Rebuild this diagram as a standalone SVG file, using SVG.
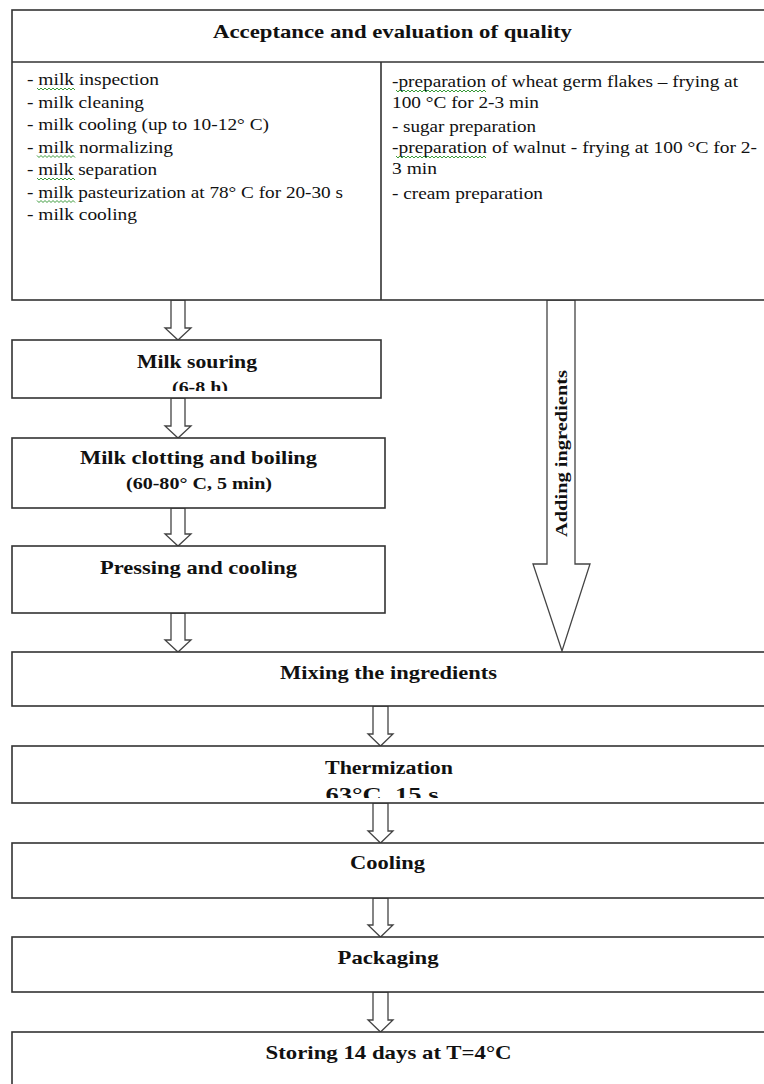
<svg xmlns="http://www.w3.org/2000/svg" width="764" height="1084" viewBox="0 0 764 1084">
<style>
.box{fill:#fff;stroke:#333;stroke-width:1.6}
.line{stroke:#333;stroke-width:1.6;fill:none}
.arr{fill:#fff;stroke:#444;stroke-width:1.3;stroke-linejoin:miter}
.t{font-family:"Liberation Serif","Times New Roman",serif;fill:#111}
.b{font-weight:bold;font-size:19px;text-anchor:middle}
.s{font-size:17px}
.r{font-size:17px}
.sq{stroke:#3a9a3a;stroke-width:1;fill:none}
</style>
<defs>
<clipPath id="c1"><rect x="12" y="340" width="369" height="51"/></clipPath>
<clipPath id="c2"><rect x="12" y="746" width="754" height="52"/></clipPath>
</defs>
<rect width="764" height="1084" fill="#fff"/>

<g id="connectors">
<polygon class="arr" points="171,300 185,300 185,328 191,328 178,340 165,328 171,328"/>
<polygon class="arr" points="171,398 185,398 185,426 191,426 178,438 165,426 171,426"/>
<polygon class="arr" points="171,508 185,508 185,534 191,534 178,546 165,534 171,534"/>
<polygon class="arr" points="171,613 185,613 185,640 191,640 178,652 165,640 171,640"/>
<polygon class="arr" points="547,300 575,300 575,564 590,564 562,651 533,564 547,564"/>
<text class="t" style="font-weight:bold;font-size:17px;text-anchor:middle" transform="translate(567,453.5) rotate(-90)" textLength="167" lengthAdjust="spacingAndGlyphs">Adding ingredients</text>
<polygon class="arr" points="373,706 388,706 388,734 393,734 380.5,746 368,734 373,734"/>
<polygon class="arr" points="373,803 388,803 388,831 393,831 380.5,843 368,831 373,831"/>
<polygon class="arr" points="373,898 388,898 388,925 393,925 380.5,937 368,925 373,925"/>
<polygon class="arr" points="373,992 388,992 388,1020 393,1020 380.5,1032 368,1020 373,1020"/>
</g>

<g id="acceptance">
<rect class="box" x="12" y="10" width="760" height="290"/>
<line class="line" x1="12" y1="62" x2="772" y2="62"/>
<line class="line" x1="381" y1="62" x2="381" y2="300"/>
<text class="t b" x="392.5" y="38" textLength="359" lengthAdjust="spacingAndGlyphs">Acceptance and evaluation of quality</text>
<g class="t r">
<text x="27" y="85" textLength="132" lengthAdjust="spacingAndGlyphs">- milk inspection</text>
<text x="27" y="107.5" textLength="117" lengthAdjust="spacingAndGlyphs">- milk cleaning</text>
<text x="27" y="130" textLength="242" lengthAdjust="spacingAndGlyphs">- milk cooling (up to 10-12° C)</text>
<text x="27" y="152.5" textLength="146" lengthAdjust="spacingAndGlyphs">- milk normalizing</text>
<text x="27" y="175" textLength="130" lengthAdjust="spacingAndGlyphs">- milk separation</text>
<text x="27" y="197.5" textLength="316" lengthAdjust="spacingAndGlyphs">- milk pasteurization at 78° C for 20-30 s</text>
<text x="27" y="220" textLength="110" lengthAdjust="spacingAndGlyphs">- milk cooling</text>
<text x="392" y="87" textLength="346" lengthAdjust="spacingAndGlyphs">-preparation of wheat germ flakes – frying at</text>
<text x="392" y="108" textLength="147" lengthAdjust="spacingAndGlyphs">100 °C for 2-3 min</text>
<text x="392" y="132" textLength="144" lengthAdjust="spacingAndGlyphs">- sugar preparation</text>
<text x="392" y="153" textLength="365" lengthAdjust="spacingAndGlyphs">-preparation of walnut - frying at 100 °C for 2-</text>
<text x="392" y="174" textLength="45" lengthAdjust="spacingAndGlyphs">3 min</text>
<text x="392" y="199" textLength="151" lengthAdjust="spacingAndGlyphs">- cream preparation</text>
</g>
<g class="sq">
<polyline points="37,88 39,90 41,88 43,90 45,88 47,90 49,88 51,90 53,88 55,90 57,88 59,90 61,88 63,90 65,88 67,90 69,88 71,90 73,88 75,90"/>
<polyline points="37,155.5 39,157.5 41,155.5 43,157.5 45,155.5 47,157.5 49,155.5 51,157.5 53,155.5 55,157.5 57,155.5 59,157.5 61,155.5 63,157.5 65,155.5 67,157.5 69,155.5 71,157.5 73,155.5 75,157.5"/>
<polyline points="37,178 39,180 41,178 43,180 45,178 47,180 49,178 51,180 53,178 55,180 57,178 59,180 61,178 63,180 65,178 67,180 69,178 71,180 73,178 75,180"/>
<polyline points="37,200.5 39,202.5 41,200.5 43,202.5 45,200.5 47,202.5 49,200.5 51,202.5 53,200.5 55,202.5 57,200.5 59,202.5 61,200.5 63,202.5 65,200.5 67,202.5 69,200.5 71,202.5 73,200.5 75,202.5"/>
<polyline points="396,90 398,92 400,90 402,92 404,90 406,92 408,90 410,92 412,90 414,92 416,90 418,92 420,90 422,92 424,90 426,92 428,90 430,92 432,90 434,92 436,90 438,92 440,90 442,92 444,90 446,92 448,90 450,92 452,90 454,92 456,90 458,92 460,90 462,92 464,90 466,92 468,90 470,92 472,90 474,92 476,90 478,92 480,90 482,92 484,90 486,92"/>
<polyline points="396,156 398,158 400,156 402,158 404,156 406,158 408,156 410,158 412,156 414,158 416,156 418,158 420,156 422,158 424,156 426,158 428,156 430,158 432,156 434,158 436,156 438,158 440,156 442,158 444,156 446,158 448,156 450,158 452,156 454,158 456,156 458,158 460,156 462,158 464,156 466,158 468,156 470,158 472,156 474,158 476,156 478,158 480,156 482,158 484,156 486,158"/>
</g>
</g>

<g id="souring">
<rect class="box" x="12" y="340" width="369" height="58"/>
<text class="t b" x="197" y="368" textLength="120" lengthAdjust="spacingAndGlyphs">Milk souring</text>
<text class="t b s" x="200" y="393" clip-path="url(#c1)" textLength="56" lengthAdjust="spacingAndGlyphs">(6-8 h)</text>
</g>

<g id="clotting">
<rect class="box" x="12" y="438" width="373" height="70"/>
<text class="t b" x="198.5" y="464" textLength="237" lengthAdjust="spacingAndGlyphs">Milk clotting and boiling</text>
<text class="t b s" x="199" y="489" textLength="146" lengthAdjust="spacingAndGlyphs">(60-80° C, 5 min)</text>
</g>

<g id="pressing">
<rect class="box" x="12" y="546" width="373" height="67"/>
<text class="t b" x="198.5" y="574" textLength="197" lengthAdjust="spacingAndGlyphs">Pressing and cooling</text>
</g>

<g id="mixing">
<rect class="box" x="12" y="652" width="760" height="54"/>
<text class="t b" x="388.5" y="679" textLength="217" lengthAdjust="spacingAndGlyphs">Mixing the ingredients</text>
</g>

<g id="thermization">
<rect class="box" x="12" y="746" width="760" height="57"/>
<text class="t b" x="389" y="774" textLength="128" lengthAdjust="spacingAndGlyphs">Thermization</text>
<text class="t b" x="382" y="801" clip-path="url(#c2)" textLength="113" lengthAdjust="spacingAndGlyphs">63°C, 15 s</text>
</g>

<g id="cooling">
<rect class="box" x="12" y="843" width="760" height="55"/>
<text class="t b" x="387.5" y="869" textLength="75" lengthAdjust="spacingAndGlyphs">Cooling</text>
</g>

<g id="packaging">
<rect class="box" x="12" y="937" width="760" height="55"/>
<text class="t b" x="388" y="964" textLength="101" lengthAdjust="spacingAndGlyphs">Packaging</text>
</g>

<g id="storing">
<rect class="box" x="12" y="1032" width="760" height="70"/>
<text class="t b" x="388.5" y="1059" textLength="246" lengthAdjust="spacingAndGlyphs">Storing 14 days at T=4°C</text>
</g>
</svg>
